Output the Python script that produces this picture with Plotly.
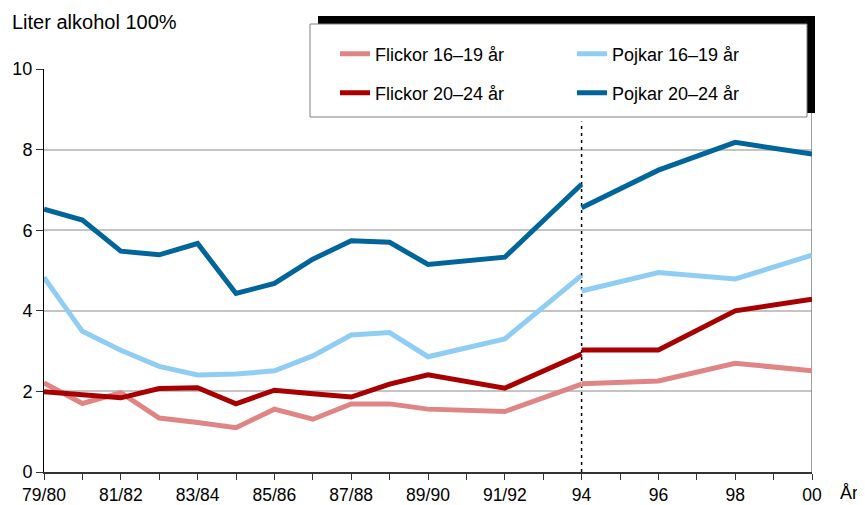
import plotly.graph_objects as go

# ---- data ----
categories = ["79/80", "80/81", "81/82", "82/83", "83/84", "84/85", "85/86", "86/87",
              "87/88", "88/89", "89/90", "90/91", "91/92", "92/93", "94", "95",
              "96", "97", "98", "99", "00"]
tick_labels = ["79/80", "", "81/82", "", "83/84", "", "85/86", "", "87/88", "",
               "89/90", "", "91/92", "", "94", "", "96", "", "98", "", "00"]

# old survey series (79/80 .. 94)
old_periods = categories[:15]
flickor_16_19_old = [2.21, 1.70, 1.97, 1.34, 1.23, 1.10, 1.56, 1.31, 1.69, 1.69, 1.56, None, 1.50, None, 2.18]
flickor_20_24_old = [1.99, 1.91, 1.84, 2.07, 2.09, 1.69, 2.03, 1.94, 1.86, 2.18, 2.41, None, 2.08, None, 2.93]
pojkar_16_19_old = [4.83, 3.49, 3.02, 2.62, 2.41, 2.43, 2.51, 2.88, 3.40, 3.46, 2.86, None, 3.30, None, 4.88]
pojkar_20_24_old = [6.52, 6.25, 5.48, 5.39, 5.67, 4.43, 4.68, 5.28, 5.74, 5.70, 5.15, None, 5.33, None, 7.14]

# new survey series (94 .. 00)
new_periods = ["94", "96", "98", "00"]
flickor_16_19_new = [2.19, 2.26, 2.70, 2.51]
flickor_20_24_new = [3.03, 3.03, 4.00, 4.29]
pojkar_16_19_new = [4.49, 4.95, 4.79, 5.38]
pojkar_20_24_new = [6.56, 7.49, 8.18, 7.89]

series_names = ["Flickor 16–19 år", "Flickor 20–24 år", "Pojkar 16–19 år", "Pojkar 20–24 år"]
colors = ["#e08585", "#a80000", "#90cdf4", "#00659b"]
legends = ["legend", "legend2", "legend", "legend2"]
old_vals = [flickor_16_19_old, flickor_20_24_old, pojkar_16_19_old, pojkar_20_24_old]
new_vals = [flickor_16_19_new, flickor_20_24_new, pojkar_16_19_new, pojkar_20_24_new]

FONT = "Liberation Sans, Arial, sans-serif"

x_old = [categories.index(c) for c in old_periods]
x_new = [categories.index(c) for c in new_periods]

fig = go.Figure()
for name, col, lg, ov, nv in zip(series_names, colors, legends, old_vals, new_vals):
    fig.add_trace(go.Scatter(x=x_old, y=ov, mode="lines", name=name,
                             line=dict(color=col, width=5), connectgaps=True,
                             legend=lg, legendgroup=name, showlegend=True))
    fig.add_trace(go.Scatter(x=x_new, y=nv, mode="lines", name=name,
                             line=dict(color=col, width=5), connectgaps=True,
                             legend=lg, legendgroup=name, showlegend=False))

# page body adds an 8px offset; size the figure so it fills the window
OFF = 8
W, H = 865 - OFF, 505 - OFF
PL, PR, PT, PB = 44, 812, 69, 472   # plot area in window pixels

def px(p):
    return (p - PL) / (PR - PL)

def py(p):
    return (PB - p) / (PB - PT)

shapes = [
    # dotted separator at 94
    dict(type="line", xref="x", yref="y", x0=14, x1=14, y0=0, y1=8.7,
         line=dict(color="black", width=1.5, dash="3px,4px"), layer="between"),
    # right frame line
    dict(type="line", xref="x", yref="y", x0=20, x1=20, y0=0, y1=10,
         line=dict(color="#808080", width=1.5), layer="between"),
    # legend shadow
    dict(type="rect", xref="paper", yref="paper", x0=px(318), x1=px(815), y0=py(113), y1=py(16),
         fillcolor="black", line=dict(width=0), layer="above"),
    # legend box
    dict(type="rect", xref="paper", yref="paper", x0=px(310), x1=px(807), y0=py(117), y1=py(24),
         fillcolor="white", line=dict(color="#808080", width=1), layer="above"),
]

legend_common = dict(orientation="h", xanchor="left", yanchor="middle",
                     bgcolor="rgba(0,0,0,0)", borderwidth=0,
                     font=dict(family=FONT, size=18, color="black"),
                     entrywidth=192, entrywidthmode="pixels", itemclick=False)

fig.update_layout(
    width=W, height=H,
    margin=dict(l=PL - OFF, r=W + OFF - PR, t=PT - OFF, b=H + OFF - PB, autoexpand=False),
    plot_bgcolor="white", paper_bgcolor="white",
    font=dict(family=FONT, size=18, color="black"),
    shapes=shapes,
    legend=dict(x=px(335), y=py(54), **legend_common),
    legend2=dict(x=px(335), y=py(93), **legend_common),
    xaxis=dict(range=[0, 20], tickmode="array", tickvals=list(range(len(categories))),
               ticktext=tick_labels, showgrid=False, zeroline=False,
               showline=True, linecolor="#333333", linewidth=2,
               ticks="outside", ticklen=6, tickcolor="#333333", tickwidth=1,
               tickfont=dict(family=FONT, size=17.5, color="black")),
    yaxis=dict(range=[0, 10], tickvals=[0, 2, 4, 6, 8, 10], showgrid=True,
               gridcolor="#c4c4c4", gridwidth=1.5, zeroline=False,
               showline=True, linecolor="black", linewidth=1,
               ticks="outside", ticklen=7, tickcolor="#333333", tickwidth=1,
               tickfont=dict(family=FONT, size=18, color="black")),
    annotations=[
        dict(text="Liter alkohol 100%", xref="paper", yref="paper", x=px(10), y=py(22),
             xanchor="left", yanchor="middle", showarrow=False,
             font=dict(family=FONT, size=20, color="black")),
        dict(text="År", xref="paper", yref="paper", x=px(849), y=py(493),
             xanchor="center", yanchor="middle", showarrow=False,
             font=dict(family=FONT, size=18, color="black")),
    ],
)

fig.write_html("out.html")
